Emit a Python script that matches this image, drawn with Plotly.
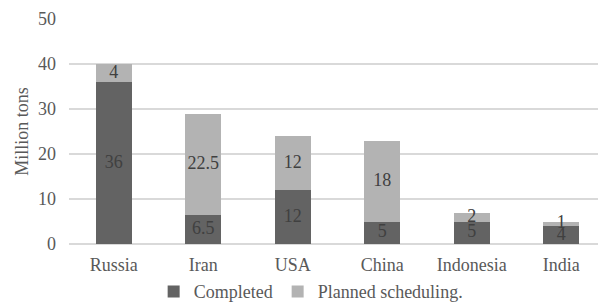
import plotly.graph_objects as go

countries = ["Russia", "Iran", "USA", "China", "Indonesia", "India"]
completed = [36, 6.5, 12, 5, 5, 4]
planned = [4, 22.5, 12, 18, 2, 1]
y_ticks = [0, 10, 20, 30, 40, 50]

dark = "#636363"
light = "#b3b3b3"
font_family = "Liberation Serif, Times New Roman, DejaVu Serif"
fs = 18

fig = go.Figure()
fig.add_trace(go.Bar(x=countries, y=completed, name="Completed",
                     marker=dict(color=dark, line=dict(width=0))))
fig.add_trace(go.Bar(x=countries, y=planned, name="Planned scheduling.",
                     marker=dict(color=light, line=dict(width=0))))

# value labels centred in each segment
mid_c = [c / 2 for c in completed]
mid_p = [c + p / 2 for c, p in zip(completed, planned)]
fig.add_trace(go.Scatter(x=countries, y=mid_c, mode="text",
                         text=[f"{v:g}" for v in completed],
                         textfont=dict(family=font_family, size=fs, color="#404040"),
                         showlegend=False, hoverinfo="skip"))
fig.add_trace(go.Scatter(x=countries, y=mid_p, mode="text",
                         text=[f"{v:g}" for v in planned],
                         textfont=dict(family=font_family, size=fs, color="#404040"),
                         showlegend=False, hoverinfo="skip"))

fig.update_layout(
    width=598, height=296,
    margin=dict(l=61, r=0, t=11, b=60, autoexpand=False),
    barmode="stack", bargap=0.6,
    plot_bgcolor="white", paper_bgcolor="white",
    font=dict(family=font_family, size=fs, color="#595959"),
    legend=dict(orientation="h", x=0.45, xanchor="center", y=-0.13, yanchor="top",
                font=dict(family=font_family, size=fs, color="#595959"),
                traceorder="normal", itemwidth=30, tracegroupgap=0),
    xaxis=dict(showgrid=False, showline=False, ticks="", automargin=False,
               ticklabelstandoff=8, tickfont=dict(family=font_family, size=fs)),
    yaxis=dict(range=[0, 50], tickvals=y_ticks, showgrid=True, gridcolor="#d9d9d9",
               gridwidth=1.5, zeroline=True, zerolinecolor="#d9d9d9", zerolinewidth=1.5,
               ticks="", ticklabelstandoff=12, automargin=False,
               title=dict(text="Million tons", font=dict(family=font_family, size=fs, color="#595959"),
                          standoff=4),
               tickfont=dict(family=font_family, size=fs)),
)

fig.write_html("out.html")
